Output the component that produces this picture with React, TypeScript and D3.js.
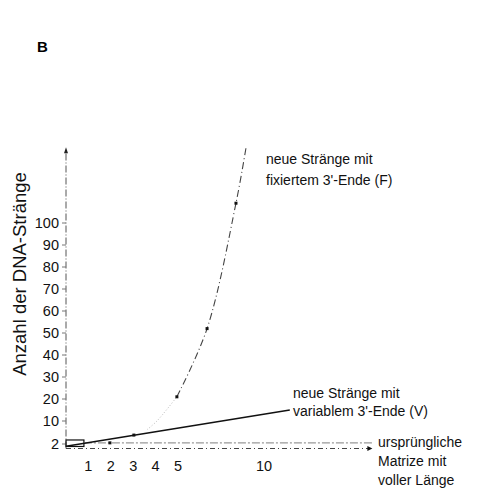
import React, { useEffect, useRef } from "react";
import * as d3 from "d3";

// tick labels
const xTicks = [1, 2, 3, 4, 5, 10];
const yTicks = [2, 10, 20, 30, 40, 50, 60, 70, 80, 90, 100];

// F: new strands with fixed 3' end
const fCycles = [3.62, 4.06, 4.95, 6.69, 8.37, 8.95];
const fStrands = [7, 10, 21, 52, 109, 134];

// V: new strands with variable 3' end
const vCycles = [0, 11.5];
const vStrands = [1, 15];

// original template (constant)
const mCycles = [0.8, 16.3];
const mStrands = [2.4, 2.4];

// small dots on the curves
const dotCycles = [1.96, 3.03, 4.95, 6.69, 8.37];
const dotStrands = [2.4, 5.1, 21, 52, 109];

const FONT = "'Liberation Sans', Arial, Helvetica, sans-serif";

const App = () => {
  const svgRef = useRef<SVGSVGElement>(null);

  useEffect(() => {
    const W = 496;
    const H = 489;

    const svg = d3.select(svgRef.current).attr("width", W).attr("height", H);
    svg.selectAll("*").remove();

    // schematic axes: both are stretched near the origin
    const x = d3.scaleLinear().domain([0, 5, 10]).range([66, 178, 264]);
    const y = d3
      .scaleLinear()
      .domain([0, 2, 10, 100])
      .range([448.5, 444, 421, 223]);

    const xMax = 16.3;
    const yMax = 134;

    // panel letter
    svg
      .append("text")
      .attr("x", 37)
      .attr("y", 52)
      .style("font-family", FONT)
      .style("font-weight", "bold")
      .style("font-size", "15px")
      .text("B");

    // y axis
    svg
      .append("line")
      .attr("x1", x(0))
      .attr("x2", x(0))
      .attr("y1", y(0))
      .attr("y2", y(yMax) + 3)
      .attr("stroke", "#555")
      .attr("stroke-width", 1)
      .attr("stroke-dasharray", "7,2,1,2");

    svg
      .append("path")
      .attr(
        "d",
        `M${x(0) - 2},${y(yMax) + 5}L${x(0)},${y(yMax) - 1}L${x(0) + 2},${y(yMax) + 5}Z`
      )
      .attr("fill", "#222");

    const yt = svg.append("g");
    yTicks.forEach(t => {
      yt.append("line")
        .attr("x1", x(0) - 4)
        .attr("x2", x(0))
        .attr("y1", y(t))
        .attr("y2", y(t))
        .attr("stroke", "#777");
      yt.append("text")
        .attr("x", x(0) - 7)
        .attr("y", y(t))
        .attr("dy", "0.36em")
        .attr("text-anchor", "end")
        .style("font-family", FONT)
        .style("font-size", "14.5px")
        .attr("fill", "#111")
        .text(t);
    });

    // y axis title
    svg
      .append("text")
      .attr("transform", `translate(19,274) rotate(-90)`)
      .attr("text-anchor", "middle")
      .attr("dy", "0.36em")
      .style("font-family", FONT)
      .style("font-size", "18.5px")
      .attr("fill", "#111")
      .text("Anzahl der DNA-Stränge");

    // x axis (dashed, with arrow)
    svg
      .append("line")
      .attr("x1", x(0))
      .attr("x2", x(xMax) - 3)
      .attr("y1", y(0))
      .attr("y2", y(0))
      .attr("stroke", "#444")
      .attr("stroke-width", 1)
      .attr("stroke-dasharray", "5,3,1,3");

    svg
      .append("path")
      .attr(
        "d",
        `M${x(xMax) - 5},${y(0) - 2.5}L${x(xMax)},${y(0)}L${x(xMax) - 5},${y(0) + 2.5}Z`
      )
      .attr("fill", "#111");

    xTicks.forEach(t => {
      svg
        .append("text")
        .attr("x", x(t))
        .attr("y", 466)
        .attr("dy", "0.36em")
        .attr("text-anchor", "middle")
        .style("font-family", FONT)
        .style("font-size", "14.5px")
        .attr("fill", "#111")
        .text(t);
    });

    // starting template box
    svg
      .append("rect")
      .attr("x", x(0))
      .attr("y", y(3.4))
      .attr("width", x(0.8) - x(0))
      .attr("height", y(0.9) - y(3.4))
      .attr("fill", "none")
      .attr("stroke", "#111")
      .attr("stroke-width", 1.2);

    // template line
    const line = d3
      .line<[number, number]>()
      .x(d => x(d[0]))
      .y(d => y(d[1]));

    const mData = mCycles.map((c, i) => [c, mStrands[i]] as [number, number]);
    svg
      .append("path")
      .attr("d", line(mData))
      .attr("fill", "none")
      .attr("stroke", "#999")
      .attr("stroke-width", 1.2)
      .attr("stroke-dasharray", "8,2,2,2");

    // V line
    const vData = vCycles.map((c, i) => [c, vStrands[i]] as [number, number]);
    svg
      .append("path")
      .attr("d", line(vData))
      .attr("fill", "none")
      .attr("stroke", "#111")
      .attr("stroke-width", 1.4);

    // F curve
    const curve = d3
      .line<[number, number]>()
      .x(d => x(d[0]))
      .y(d => y(d[1]))
      .curve(d3.curveCatmullRom);

    const fData = fCycles.map((c, i) => [c, fStrands[i]] as [number, number]);
    svg
      .append("path")
      .attr("d", curve(fData.slice(0, 3)))
      .attr("fill", "none")
      .attr("stroke", "#bbb")
      .attr("stroke-width", 1)
      .attr("stroke-dasharray", "1,2");

    svg
      .append("path")
      .attr("d", curve(fData.slice(2)))
      .attr("fill", "none")
      .attr("stroke", "#444")
      .attr("stroke-width", 1.1)
      .attr("stroke-dasharray", "7,3,1,3");

    // dots
    dotCycles.forEach((c, i) => {
      svg
        .append("rect")
        .attr("x", x(c) - 1.5)
        .attr("y", y(dotStrands[i]) - 1.5)
        .attr("width", 3)
        .attr("height", 3)
        .attr("fill", "#111");
    });

    // annotations
    const label = (lines: string[], lx: number, ly: number, gap: number) => {
      const t = svg
        .append("text")
        .attr("x", lx)
        .attr("y", ly)
        .style("font-family", FONT)
        .style("font-size", "14px")
        .attr("fill", "#111");
      lines.forEach((s, i) => {
        t.append("tspan")
          .attr("x", lx)
          .attr("dy", i === 0 ? "0.36em" : gap)
          .text(s);
      });
    };

    label(["neue Stränge mit", "fixiertem 3'-Ende (F)"], 266, 159, 21);
    label(["neue Stränge mit", "variablem 3'-Ende (V)"], 293, 393, 18);
    label(["ursprüngliche", "Matrize mit", "voller Länge"], 378, 442, 19);
  }, []);

  return (
    <svg
      ref={svgRef}
      style={{ position: "absolute", left: 0, top: 0, background: "#fff" }}
    ></svg>
  );
};

export default App;
